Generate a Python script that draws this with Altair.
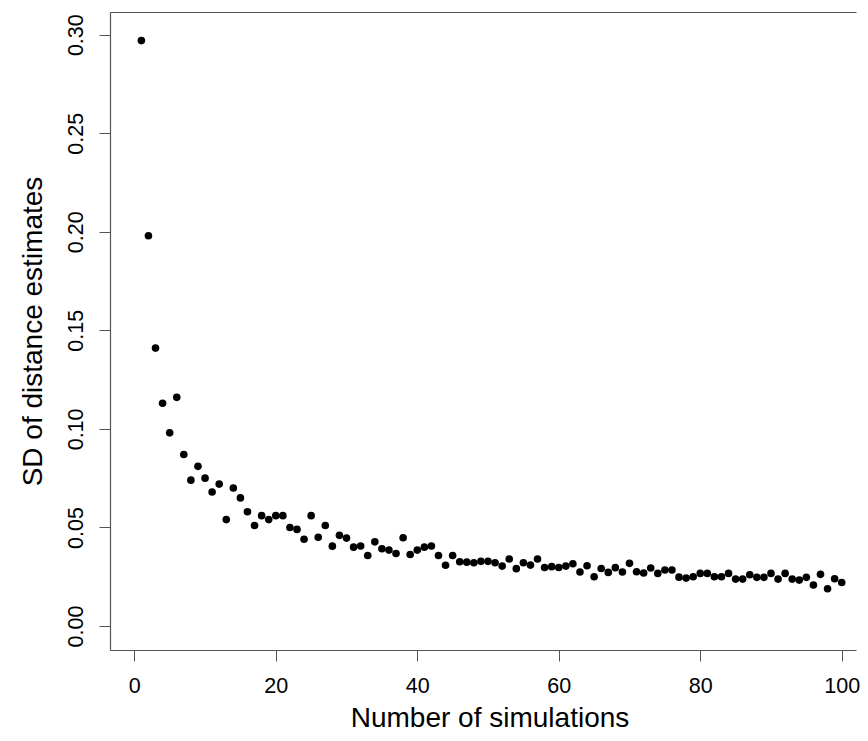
import altair as alt
import pandas as pd

simulations = list(range(1, 101))
sd_estimates = [
    0.297, 0.198, 0.141, 0.113, 0.098, 0.116, 0.087, 0.074, 0.081, 0.075,
    0.068, 0.072, 0.054, 0.070, 0.065, 0.058, 0.051, 0.056, 0.054, 0.056,
    0.056, 0.050, 0.049, 0.044, 0.056, 0.045, 0.051, 0.0405, 0.046, 0.0446,
    0.040, 0.0406, 0.0358, 0.0427, 0.0392, 0.0385, 0.0368, 0.0448, 0.0363, 0.0385,
    0.0400, 0.0406, 0.0358, 0.0308, 0.0358, 0.0326, 0.0324, 0.0321, 0.0328, 0.0328,
    0.0321, 0.0304, 0.0340, 0.0291, 0.0321, 0.0309, 0.0340, 0.0297, 0.0301, 0.0297,
    0.0304, 0.0316, 0.0274, 0.0306, 0.0250, 0.0292, 0.0272, 0.0296, 0.0274, 0.0318,
    0.0275, 0.0269, 0.0294, 0.0267, 0.0284, 0.0284, 0.0248, 0.0243, 0.0250, 0.0267,
    0.0267, 0.0250, 0.0250, 0.0267, 0.0238, 0.0238, 0.0260, 0.0247, 0.0247, 0.0267,
    0.0238, 0.0267, 0.0238, 0.0233, 0.0247, 0.0208, 0.0262, 0.0189, 0.0240, 0.0221,
]
x_ticks = [0, 20, 40, 60, 80, 100]
y_ticks = [0.00, 0.05, 0.10, 0.15, 0.20, 0.25, 0.30]

df = pd.DataFrame({"n": simulations, "sd": sd_estimates})

FONT = "Liberation Sans"
AX = "#555555"

x_scale = alt.Scale(domain=[-3.435, 102.02], nice=False, zero=False)
y_scale = alt.Scale(domain=[-0.01217, 0.3115], nice=False, zero=False)

points = (
    alt.Chart(df)
    .mark_circle(size=58, color="black", opacity=1)
    .encode(
        x=alt.X(
            "n:Q",
            scale=x_scale,
            axis=alt.Axis(
                values=x_ticks,
                title="Number of simulations",
                domain=True,
                domainColor=AX,
                domainWidth=1.2,
                grid=False,
                tickSize=11,
                tickColor=AX,
                tickWidth=1,
                labelFont=FONT,
                labelFontSize=21.5,
                labelColor="black",
                labelBaseline="alphabetic",
                labelPadding=31,
                labelFlush=False,
                labelOverlap=False,
                titleFont=FONT,
                titleFontSize=28,
                titleFontWeight="normal",
                titleColor="black",
                titleBaseline="alphabetic",
                titleX=379.5,
                titleY=76,
            ),
        ),
        y=alt.Y(
            "sd:Q",
            scale=y_scale,
            axis=alt.Axis(
                values=y_ticks,
                format=".2f",
                title="SD of distance estimates",
                domain=True,
                domainColor=AX,
                domainWidth=1.2,
                grid=False,
                tickSize=11,
                tickColor=AX,
                tickWidth=1,
                labelFont=FONT,
                labelFontSize=21.5,
                labelColor="black",
                labelAngle=270,
                labelAlign="center",
                labelBaseline="alphabetic",
                labelPadding=17,
                labelFlush=False,
                labelOverlap=False,
                titleFont=FONT,
                titleFontSize=28,
                titleFontWeight="normal",
                titleColor="black",
                titleAngle=270,
                titleAlign="center",
                titleBaseline="alphabetic",
                titleX=-69,
                titleY=319,
            ),
        ),
    )
)

top_frame = (
    alt.Chart(df)
    .mark_circle(size=1, opacity=0)
    .encode(
        x=alt.X(
            "n:Q",
            scale=x_scale,
            axis=alt.Axis(
                orient="top",
                title=None,
                labels=False,
                ticks=False,
                grid=False,
                domain=True,
                domainColor=AX,
                domainWidth=1.2,
            ),
        ),
        y=alt.Y("sd:Q", scale=y_scale, axis=None),
    )
)

chart = (
    alt.layer(points, top_frame)
    .resolve_axis(x="independent", y="independent")
    .properties(
        width=746,
        height=638,
        autosize=alt.AutoSizeParams(type="none"),
        padding={"left": 102, "top": 4, "right": 4, "bottom": 83},
        background="white",
    )
    .configure_view(stroke=None)
)

chart.save("out.html", embed_options={"renderer": "svg", "actions": False})
